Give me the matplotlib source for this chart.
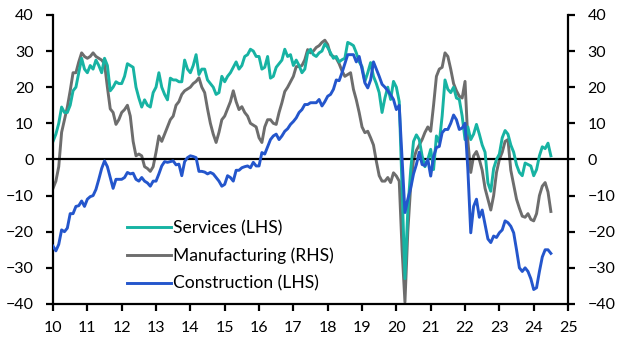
import numpy as np
import matplotlib.pyplot as plt

# monthly balances, Jan 2010 - Jul 2024
services = [
    5, 7, 10, 14.5, 13, 13, 15, 19, 20, 24, 28, 25,              # 2010
    24, 26, 25, 27.5, 26, 24, 28, 26, 19, 20, 21.5, 21,          # 2011
    21, 23, 26.5, 26, 25.5, 20, 17, 14.5, 16.5, 15, 14.5, 18.5,  # 2012
    20, 24, 20, 18, 16.5, 22.5, 22, 22, 21.5, 21.5, 27.5, 25,    # 2013
    24, 26, 29, 23.5, 25, 25, 22, 21, 20, 18, 18.5, 23,          # 2014
    21.5, 23, 24, 25.5, 27, 25, 26, 28.5, 29, 30.5, 30, 28.5,    # 2015
    28.5, 25, 25.5, 28.5, 22.5, 23, 25.5, 26.5, 27.5, 30.5, 28.5, 29,  # 2016
    26, 27.5, 26, 24, 25, 29.5, 30.5, 29, 28.5, 29.5, 30, 32,    # 2017
    31, 29.5, 28, 28.5, 27, 27.6, 28, 32.4, 32, 31.5, 29.5, 27,  # 2018
    25.7, 21.6, 24, 26.8, 23, 21, 18.5, 13, 17, 20, 16.6, 21.6,  # 2019
    20, 16, -8, -33, -14, -3, 5, 6.8, 5.5, 1, -2, 0,             # 2020
    2.8, -2.8, 6.5, 4.7, 12, 22, 19.4, 18.5, 20, 17, 16.6, 12,   # 2021
    5.5, 9, 5.5, 7, 9.7, 7, 4, 2, -6.5, -8.8, -2.5, 0,           # 2022
    1.5, 6, 8, 7, 4, 2, -1.5, -3.6, -4.5, -1, -1.4, -1.8,        # 2023
    -4.5, -2.8, 1, 3.5, 3, 4.5, 1,                               # 2024
]

manufacturing = [
    -8, -6, -2, 7.5, 11, 14.5, 19, 24, 24, 27, 29.5, 28.5,       # 2010
    28, 28.5, 29.5, 28.5, 28, 27.5, 26.5, 20, 14, 13, 9.7, 11,   # 2011
    13, 13.8, 15, 12, 5, 1, 1.5, 1, -2, -2.5, -3.3, -2,          # 2012
    2, 6.5, 5, 7, 9, 11, 12, 15, 16, 18, 19, 19.5,               # 2013
    20, 21, 21.6, 22.6, 20, 18.5, 14, 10, 7, 4.7, 7.5, 11,       # 2014
    12, 14, 16, 19, 16, 13.8, 14.6, 13, 12, 10, 9.5, 9,          # 2015
    6, 4.7, 9, 11, 11, 10, 9.7, 13, 15.7, 18.8, 20, 21.5,        # 2016
    23, 25.7, 25.7, 26, 27.6, 30.4, 29.5, 30, 31, 31.5, 32.4, 33,  # 2017
    31.8, 29, 28.5, 28, 26.5, 24.5, 23, 23.5, 24, 19.4, 16.5, 13,  # 2018
    9, 7.4, 7.8, 6, 4, -0.5, -4.5, -6, -6, -5, -6.4, -3.7,       # 2019
    -4.6, -6, -25, -39.5, -20, -7.4, 0, 2.5, 4, 5.5, 7.5, 9,     # 2020
    7.8, 15, 23, 25, 25.5, 29.5, 28.5, 25, 21, 19, 17.5, 17,     # 2021
    21.6, 5, -3.6, 1, 2.2, 0, -3, -8, -11, -14, -10, -3.6,       # 2022
    0, 2, 5, 5.5, -3, -7, -11, -13.5, -15.7, -16, -15, -16.6,    # 2023
    -17, -15, -10, -7.4, -6.4, -9, -14.4,                        # 2024
]

construction = [
    -24, -25.3, -23.5, -19.5, -20, -19, -15, -15, -13, -12.8, -11.5, -13,  # 2010
    -11, -10.3, -10, -8.3, -5.5, -2.5, -0.4, -2, -5, -8, -5.5, -5.5,       # 2011
    -5.5, -5, -3.6, -4, -3.8, -5.5, -6, -5, -6, -6.5, -7.4, -6,            # 2012
    -6, -4, -1.8, -0.6, -0.8, -0.6, -0.4, -1.5, -1.3, -4.5, -0.6, 0.5,     # 2013
    1, 0.8, 0.5, -3.3, -3.3, -3.5, -4, -3.6, -4, -5, -6, -7.4,             # 2014
    -6.9, -4.5, -5, -6, -3, -3, -2.3, -2, -1.8, -2.3, -0.8, -1.8,          # 2015
    -1.8, 1.9, 1.5, 3.5, 5.5, 6.5, 7, 5.5, 6.5, 7.8, 8.5, 9.7,             # 2016
    10.5, 11.5, 13, 13.8, 15.2, 15.2, 15.7, 15.7, 15.7, 16.6, 14.8, 16,    # 2017
    17.5, 18, 19.4, 22, 21.8, 24, 26.5, 29, 29, 29, 27, 28.5,              # 2018
    25, 21.2, 19.8, 22, 27, 25, 23, 20.8, 20, 19, 17.9, 16.6,              # 2019
    13.8, 15, 0, -14.7, -11, -8, -4, -1.4, 2, -1.4, -1.7, 0,               # 2020
    -4.6, 0.8, 3.3, 3.6, 7.4, 8.3, 8.3, 10, 12.3, 11, 8.3, 8.7,            # 2021
    10, -3, -20.3, -13, -11, -16, -14, -18, -22, -23, -21.2, -21.6,        # 2022
    -20.3, -19.5, -17, -17.5, -18.5, -20.3, -25, -30, -31, -30, -31, -33,  # 2023
    -36, -35.5, -31, -27, -25, -25, -26,                                   # 2024
]

t = 2010 + np.arange(len(services)) / 12.0
years = np.arange(2010, 2026)
ylabels = [str(y % 100) for y in years]

plt.rcParams['font.family'] = ['Lato', 'DejaVu Sans']

fig = plt.figure(figsize=(6.26, 3.47), dpi=100)
ax = fig.add_axes([0.0847, 0.124, 0.8227, 0.833])
ax2 = ax.twinx()

ax.axhline(0, color='black', lw=1.6, zorder=1)
l2, = ax2.plot(t, manufacturing, color='#6d6d6d', lw=2.1, label='Manufacturing (RHS)')
l1, = ax.plot(t, services, color='#17b3a3', lw=2.1, label='Services (LHS)', zorder=2)
l3, = ax.plot(t, construction, color='#2456cc', lw=2.1, label='Construction (LHS)', zorder=3)

# left axes drawn on top of the twin so the LHS lines sit over the grey one
ax.set_zorder(ax2.get_zorder() + 1)
ax.patch.set_visible(False)

for a in (ax, ax2):
    a.set_xlim(2010, 2025)
    a.set_ylim(-40, 40)
    a.set_yticks(np.arange(-40, 41, 10))
    a.spines['top'].set_visible(False)
    for s in a.spines.values():
        s.set_linewidth(1.6)

ax.spines['right'].set_visible(False)
ax2.spines['left'].set_visible(False)
ax2.spines['bottom'].set_visible(False)

ax.set_xticks(years)
ax.set_xticklabels(ylabels)
ax.tick_params(axis='x', direction='out', length=5, width=1.6, pad=7, labelsize=11.5)
ax.tick_params(axis='y', direction='out', length=5, width=1.6, pad=9, labelsize=11.5)
ax2.tick_params(axis='y', direction='out', length=5, width=1.6, pad=9, labelsize=11.5)

ax.legend(handles=[l1, l2, l3], loc='lower left', bbox_to_anchor=(0.12, 0.0),
          frameon=False, fontsize=12.6, handlelength=2.5, handletextpad=0.1,
          labelspacing=0.65, borderaxespad=0.3)

fig.savefig('out.png', dpi=100)
